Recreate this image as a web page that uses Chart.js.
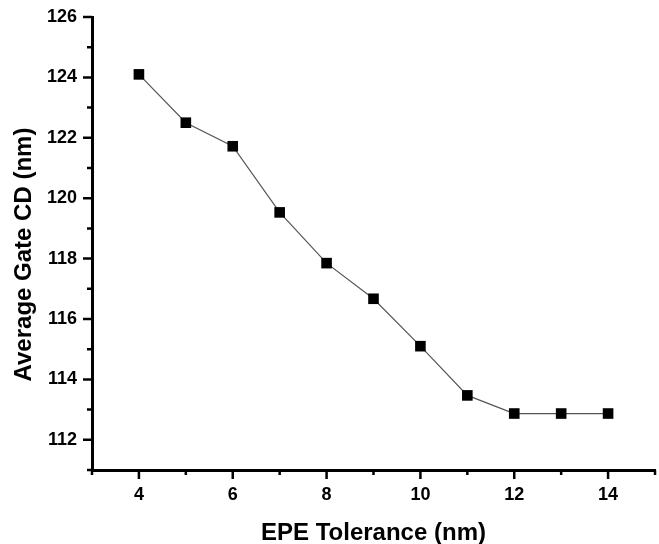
<!DOCTYPE html>
<html>
<head>
<meta charset="utf-8">
<script src="https://cdn.jsdelivr.net/npm/chart.js@4/dist/chart.umd.min.js"></script>
<style>
    html, body { margin: 0; padding: 0; background: #fff; }
    #wrap { width: 659px; height: 544px; }
</style>
</head>
<body>
<div id="wrap"><canvas id="chart" width="659" height="544"></canvas></div>
<script>
/* Dados */
const tolerancias = [4, 5, 6, 7, 8, 9, 10, 11, 12, 13, 14];
const gateCD      = [124.1, 122.5, 121.72, 119.53, 117.85, 116.67, 115.1, 113.47, 112.87, 112.87, 112.87];

const xTicks = [3, 4, 5, 6, 7, 8, 9, 10, 11, 12, 13, 14, 15];
const yTicks = [111, 112, 113, 114, 115, 116, 117, 118, 119, 120, 121, 122, 123, 124, 125, 126];

const tituloX = 'EPE Tolerance (nm)';
const tituloY = 'Average Gate CD (nm)';

const fonteTicks  = { family: '"Liberation Sans", Arial, sans-serif', size: 18, weight: 'bold' };
const fonteTitulo = { family: '"Liberation Sans", Arial, sans-serif', size: 24, weight: 'bold' };

/* Marcas de escala (maiores nos pares, menores nos ímpares) + título do eixo Y */
const marcasPlugin = {
    id: 'marcas',
    afterDraw(chart) {
        const { ctx, scales: { x, y } } = chart;
        ctx.save();
        ctx.strokeStyle = '#000';
        ctx.lineWidth = 2.5;
        ctx.beginPath();
        xTicks.forEach(v => {
            const px = x.getPixelForValue(v);
            const len = v % 2 === 0 ? 9 : 5;
            ctx.moveTo(px, y.bottom);
            ctx.lineTo(px, y.bottom + len);
        });
        yTicks.forEach(v => {
            const py = y.getPixelForValue(v);
            const len = v % 2 === 0 ? 9 : 5;
            ctx.moveTo(x.left, py);
            ctx.lineTo(x.left - len, py);
        });
        ctx.stroke();

        // título Y um pouco abaixo do centro, como no original
        ctx.translate(24, (y.top + y.bottom) / 2 + 11);
        ctx.rotate(-Math.PI / 2);
        ctx.fillStyle = '#000';
        ctx.font = `bold ${fonteTitulo.size}px ${fonteTitulo.family}`;
        ctx.textAlign = 'center';
        ctx.textBaseline = 'middle';
        ctx.fillText(tituloY, 0, 0);
        ctx.restore();
    }
};

new Chart(document.getElementById('chart').getContext('2d'), {
    type: 'line',
    data: {
        datasets: [{
            data: tolerancias.map((t, i) => ({ x: t, y: gateCD[i] })),
            borderColor: '#555',
            borderWidth: 1.2,
            pointStyle: 'rect',
            pointRadius: 7.5,
            pointBackgroundColor: '#000',
            pointBorderColor: '#000',
            pointBorderWidth: 0,
            tension: 0
        }]
    },
    options: {
        responsive: false,
        animation: false,
        layout: { autoPadding: false, padding: { top: 17, right: 4, left: 0, bottom: 0 } },
        plugins: { legend: { display: false }, tooltip: { enabled: false } },
        scales: {
            x: {
                type: 'linear',
                min: 3, max: 15,
                afterFit: s => { s.height = 74; s.paddingLeft = 0; s.paddingRight = 0; },
                grid: { display: true, drawOnChartArea: false, drawTicks: false },
                border: { display: true, color: '#000', width: 3 },
                ticks: {
                    stepSize: 1,
                    padding: 14,
                    color: '#000',
                    font: fonteTicks,
                    callback: v => (v % 2 === 0 && v > 3 && v < 15) ? String(v) : ''
                },
                title: {
                    display: true,
                    text: tituloX,
                    color: '#000',
                    font: fonteTitulo,
                    padding: { top: 0, bottom: -4 }
                }
            },
            y: {
                type: 'linear',
                min: 111, max: 126,
                afterFit: s => { s.width = 92; s.paddingTop = 0; s.paddingBottom = 0; },
                grid: { display: true, drawOnChartArea: false, drawTicks: false },
                border: { display: true, color: '#000', width: 3 },
                ticks: {
                    stepSize: 1,
                    padding: 15,
                    color: '#000',
                    font: fonteTicks,
                    callback: v => (v % 2 === 0) ? String(v) : ''
                },
                title: { display: false }
            }
        }
    },
    plugins: [marcasPlugin]
});
</script>
</body>
</html>
